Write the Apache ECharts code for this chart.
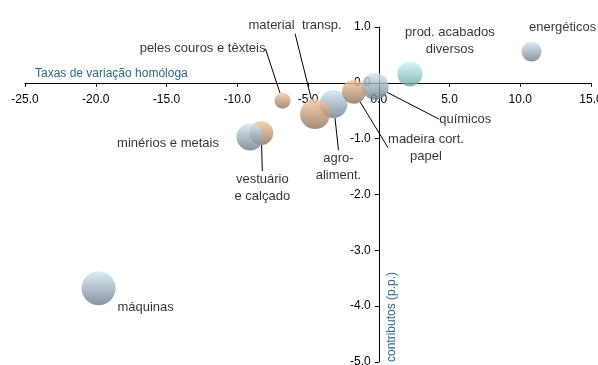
<!DOCTYPE html>
<html>
<head>
<meta charset="utf-8">
<script src="https://cdn.jsdelivr.net/npm/echarts@6/dist/echarts.min.js"></script>
<style>
  html, body { margin: 0; padding: 0; background: #fff; }
  #chart { width: 598px; height: 365px; }
</style>
</head>
<body>
<div id="chart"></div>
<script>
// produtos (ordem de desenho: os últimos ficam por cima)
var produtos = ['energéticos', 'prod. acabados\ndiversos', 'químicos', 'agro-\naliment.', 'madeira cort.\npapel',
	'material  transp.', 'peles couros e têxteis', 'vestuário\ne calçado', 'minérios e metais', 'máquinas'];
// taxas de variação homóloga (%)
var taxas = [10.8, 2.2, -0.25, -3.2, -1.75, -4.5, -6.8, -8.3, -9.1, -19.8];
// contributos (p.p.)
var contributos = [0.56, 0.16, -0.06, -0.38, -0.16, -0.56, -0.32, -0.9, -0.97, -3.68];
// peso (tamanho da bolha)
var pesos = [20, 25, 27, 28, 24, 30, 16, 24, 27, 34];
// grupo de cor
var grupos = ['azul', 'verde', 'azul', 'azul', 'laranja', 'laranja', 'laranja', 'laranja', 'azul', 'azul'];

var cores = {
	azul: ['#d2e8f7', '#6a7a86'],
	verde: ['#cdf6f4', '#6aa6a3'],
	laranja: ['#f6c9a0', '#8d6e55']
};
// deslocamento do rótulo em relação ao centro da bolha, e se leva linha
var rotulos = [
	{ dx: 31, dy: -24, linha: false },
	{ dx: 40, dy: -33, linha: false },
	{ dx: 90, dy: 33, linha: true },
	{ dx: 5, dy: 63, linha: true },
	{ dx: 72, dy: 56, linha: true },
	{ dx: -20, dy: -89, linha: true },
	{ dx: -80, dy: -52, linha: true },
	{ dx: 1, dy: 55, linha: true },
	{ dx: -82, dy: 6, linha: false },
	{ dx: 47, dy: 19, linha: false }
];

var dados = [];
for (var i = 0; i < produtos.length; i++) {
	var c = cores[grupos[i]];
	dados.push({
		name: produtos[i],
		value: [taxas[i], contributos[i], pesos[i]],
		itemStyle: {
			color: new echarts.graphic.LinearGradient(0, 0, 0, 1, [
				{ offset: 0, color: c[0] },
				{ offset: 1, color: c[1] }
			])
		},
		labelLine: { show: rotulos[i].linha }
	});
}

var fonte = 'Liberation Sans, Arial, sans-serif';
var altura = 365 - 27 - 3;
var largura = 598 - 25 - 7;
var myChart = echarts.init(document.getElementById('chart'));
var option = {
	animation: false,
	grid: { left: 25, right: 7, top: 27, bottom: 3, outerBoundsMode: 'none', containLabel: false },
	xAxis: {
		type: 'value',
		min: -25,
		max: 15,
		interval: 5,
		position: 'bottom',
		// eixo X passa em y = 0
		offset: -altura * 5 / 6,
		axisLine: { onZero: false, lineStyle: { color: '#000', width: 1 } },
		axisTick: { show: true, length: 4, lineStyle: { color: '#000' } },
		axisLabel: {
			margin: 11,
			color: '#000',
			fontFamily: fonte,
			fontSize: 12,
			formatter: function (v) { return v.toFixed(1); }
		},
		splitLine: { show: false }
	},
	yAxis: {
		type: 'value',
		min: -5,
		max: 1,
		interval: 1,
		position: 'left',
		// eixo Y passa em x = 0
		offset: -largura * 25 / 40,
		axisLine: { show: true, onZero: false, lineStyle: { color: '#000', width: 1 } },
		axisTick: { show: true, length: 4, lineStyle: { color: '#000' } },
		axisLabel: {
			margin: 8,
			color: '#000',
			fontFamily: fonte,
			fontSize: 12,
			formatter: function (v) { return v.toFixed(1); }
		},
		splitLine: { show: false }
	},
	graphic: [
		{
			type: 'text',
			left: 35,
			top: 68,
			style: {
				text: 'Taxas de variação homóloga',
				fill: '#2b6a8c',
				font: '12px Liberation Sans, Arial, sans-serif'
			}
		},
		{
			type: 'text',
			x: 386,
			y: 362,
			rotation: Math.PI / 2,
			style: {
				text: 'contributos (p.p.)',
				fill: '#2b6a8c',
				font: '12px Liberation Sans, Arial, sans-serif',
				textAlign: 'left',
				textVerticalAlign: 'top'
			}
		}
	],
	series: [
		{
			type: 'scatter',
			data: dados,
			symbolSize: function (v) { return v[2]; },
			label: {
				show: true,
				position: 'inside',
				formatter: '{b}',
				color: '#000',
				fontFamily: fonte,
				fontSize: 13,
				lineHeight: 17,
				align: 'center'
			},
			labelLine: {
				show: true,
				length2: 0,
				lineStyle: { color: '#000', width: 1 }
			},
			labelLayout: function (params) {
				var r = rotulos[params.dataIndex];
				return { dx: r.dx, dy: r.dy };
			}
		}
	]
};
myChart.setOption(option);
</script>
</body>
</html>
